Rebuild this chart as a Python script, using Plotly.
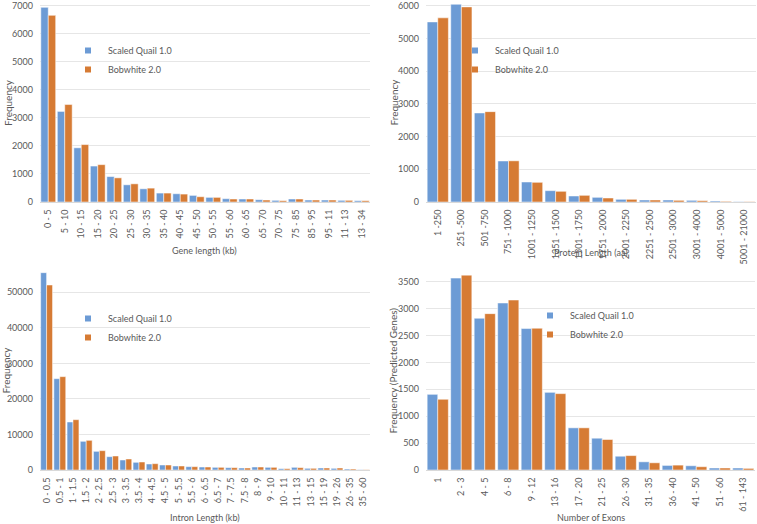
import plotly.graph_objects as go

# ---------------- data ----------------
gene_cats = ["0 - 5", "5 - 10", "10 - 15", "15 - 20", "20 - 25", "25 - 30", "30 - 35", "35 - 40",
             "40 - 45", "45 - 50", "50 - 55", "55 - 60", "60 - 65", "65 - 70", "70 - 75", "75 - 85",
             "85 - 95", "95 - 11", "11 - 13", "13 - 34"]
gene_quail = [6930, 3225, 1930, 1280, 905, 612, 470, 318, 294, 235, 165, 118, 106, 82, 59, 106, 70, 70, 59, 47]
gene_bob = [6645, 3470, 2045, 1330, 860, 647, 494, 318, 282, 188, 165, 106, 106, 70, 47, 106, 70, 70, 59, 47]

prot_cats = ["1 -250", "251 -500", "501 -750", "751 - 1000", "1001 - 1250", "1251 - 1500", "1501 - 1750",
             "1751 - 2000", "2001 - 2250", "2251 - 2500", "2501 - 3000", "3001 - 4000", "4001 - 5000",
             "5001 - 21000"]
prot_quail = [5510, 6050, 2725, 1255, 612, 347, 184, 143, 82, 61, 61, 51, 31, 10]
prot_bob = [5635, 5970, 2765, 1260, 602, 327, 204, 122, 82, 61, 51, 41, 20, 10]

intron_cats = ["0 - 0.5", "0.5 - 1", "1 - 1.5", "1.5 - 2", "2 - 2.5", "2.5 - 3", "3 - 3.5", "3.5 - 4",
               "4 - 4.5", "4.5 - 5", "5 - 5.5", "5.5 - 6", "6 - 6.5", "6.5 - 7", "7 - 7.5", "7.5 - 8",
               "8 - 9", "9 - 10", "10 - 11", "11 - 13", "13 - 15", "15 - 19", "19 - 26", "26 - 35", "35 - 60"]
intron_quail = [55530, 25700, 13510, 8070, 5250, 3750, 2810, 2160, 1690, 1410, 1130, 940, 840, 750, 660, 560,
                840, 750, 375, 750, 470, 560, 470, 280, 90]
intron_bob = [52060, 26270, 14160, 8350, 5440, 3940, 3100, 2250, 1780, 1410, 1130, 940, 840, 750, 660, 560,
              840, 750, 375, 660, 470, 560, 560, 280, 90]

exon_cats = ["1", "2 - 3", "4 - 5", "6 - 8", "9 - 12", "13 - 16", "17 - 20", "21 - 25", "26 - 30",
             "31 - 35", "36 - 40", "41 - 50", "51 - 60", "61 - 143"]
exon_quail = [1407, 3568, 2821, 3105, 2630, 1444, 784, 591, 256, 152, 85, 79, 37, 37]
exon_bob = [1315, 3623, 2907, 3160, 2636, 1420, 784, 567, 268, 134, 91, 61, 37, 30]

series_names = ["Scaled Quail 1.0", "Bobwhite 2.0"]
colors = ["#6c9bd5", "#d67b34"]

# ---------------- figure ----------------
W, H = 757, 524
FONT = "Lato, 'Open Sans', sans-serif"
TXT = "#595959"

def px_x(p):
    return p / W

def px_y(p):
    return 1 - p / H

panels = [
    dict(cats=gene_cats, vals=[gene_quail, gene_bob], xd=[40, 370], yd=[202, 4], yr=[0, 7050], dt=1000,
         xtitle="Gene length (kb)", xt_y=251, ytitle="Frequency", yt_x=8, leg=(68, 36)),
    dict(cats=prot_cats, vals=[prot_quail, prot_bob], xd=[426, 756], yd=[202, 1], yr=[0, 6150], dt=1000,
         xtitle="Protein Length (aa)", xt_y=252, ytitle="Frequency", yt_x=393, leg=(455, 36)),
    dict(cats=intron_cats, vals=[intron_quail, intron_bob], xd=[40, 370], yd=[470, 271], yr=[0, 56000], dt=10000,
         xtitle="Intron Length (kb)", xt_y=517, ytitle="Frequency", yt_x=6, leg=(68, 304)),
    dict(cats=exon_cats, vals=[exon_quail, exon_bob], xd=[426, 755], yd=[470, 271], yr=[0, 3700], dt=500,
         xtitle="Number of Exons", xt_y=517, ytitle="Frequency (Predicted Genes)", yt_x=393, leg=(530, 301)),
]

fig = go.Figure()
layout = {}
annotations = []
for i, p in enumerate(panels):
    n = "" if i == 0 else str(i + 1)
    xa, ya = "x" + n, "y" + n
    legname = "legend" + n
    for s in range(2):
        fig.add_trace(go.Bar(
            x=p["cats"], y=p["vals"][s], name=series_names[s],
            marker=dict(color=colors[s], line=dict(color="white", width=0.5)),
            xaxis=xa, yaxis=ya, showlegend=False, legendgroup=f"g{i}{s}",
        ))
    # small square legend keys, as in the original
    for s in range(2):
        fig.add_trace(go.Scatter(
            x=[None], y=[None], mode="markers", name=series_names[s],
            marker=dict(symbol="square", size=6, color=colors[s]),
            xaxis=xa, yaxis=ya, legend=legname, legendgroup=f"g{i}{s}", showlegend=True,
        ))
    layout["xaxis" + n] = dict(
        domain=[px_x(p["xd"][0]), px_x(p["xd"][1])], anchor=ya, type="category",
        tickangle=-90, tickfont=dict(size=9, color=TXT, family=FONT), showgrid=False,
        showline=True, linecolor="#d9d9d9", linewidth=1, ticks="", ticklabelstandoff=3,
        automargin=False, ticklabeloverflow="allow",
    )
    layout["yaxis" + n] = dict(
        domain=[px_y(p["yd"][0]), px_y(p["yd"][1])], anchor=xa, range=p["yr"], dtick=p["dt"],
        tickfont=dict(size=9, color=TXT, family=FONT), showgrid=True, gridcolor="#e6e6e6",
        gridwidth=1, zeroline=False, showline=False, ticks="", ticklabelstandoff=6,
        tickformat="d", automargin=False, ticklabeloverflow="allow",
    )
    layout[legname] = dict(
        x=px_x(p["leg"][0]), y=px_y(p["leg"][1]), xanchor="left", yanchor="top",
        font=dict(size=9, color=TXT, family=FONT), bgcolor="rgba(0,0,0,0)",
        itemwidth=30, tracegroupgap=0,
    )
    annotations.append(dict(
        text=p["xtitle"], x=(px_x(p["xd"][0]) + px_x(p["xd"][1])) / 2, y=px_y(p["xt_y"]),
        xref="paper", yref="paper", showarrow=False, xanchor="center", yanchor="middle",
        font=dict(size=9, color=TXT, family=FONT),
    ))
    annotations.append(dict(
        text=p["ytitle"], x=px_x(p["yt_x"]), y=(px_y(p["yd"][0]) + px_y(p["yd"][1])) / 2,
        xref="paper", yref="paper", showarrow=False, textangle=-90, xanchor="center", yanchor="middle",
        font=dict(size=10, color=TXT, family=FONT),
    ))

fig.update_layout(
    width=W, height=H, margin=dict(l=0, r=0, t=0, b=0),
    paper_bgcolor="white", plot_bgcolor="white",
    barmode="group", bargap=0.1, bargroupgap=0,
    showlegend=True, annotations=annotations, **layout,
)

fig.write_html(
    "out.html",
    config={"displayModeBar": False},
    post_script="document.body.style.margin='0';document.body.style.padding='0';document.body.style.overflow='hidden';",
)
